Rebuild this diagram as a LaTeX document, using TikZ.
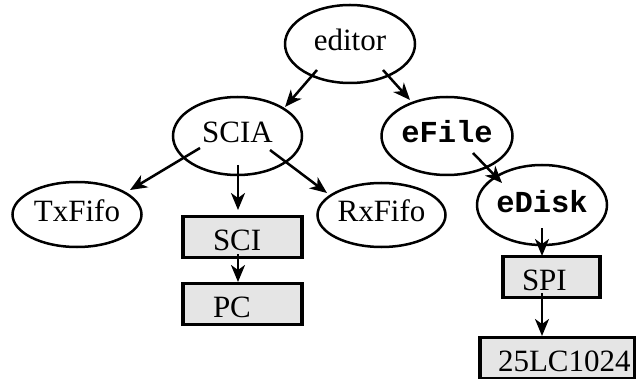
\documentclass[tikz,border=0pt]{standalone}
\usepackage{fontspec}
\setmainfont{Liberation Serif}
\newfontfamily\codefont{Liberation Mono}
\usetikzlibrary{shapes.geometric,arrows.meta,calc}
\tikzset{
  obj/.style={ellipse, draw, line width=2.5pt, inner sep=0pt,
    font=\fontsize{31}{31}\selectfont, text height=17pt, text depth=3pt},
  code/.style={obj, font=\fontsize{30.5}{31}\selectfont\codefont\bfseries},
  hw/.style={rectangle, draw, line width=3.3pt, fill=black!10, inner ysep=0pt,
    minimum height=41pt, align=left, font=\fontsize{31}{31}\selectfont,
    text height=26pt, text depth=0pt},
  link/.style={line width=2.5pt, -{Stealth[length=17pt,width=14pt,inset=5pt]}}
}
\begin{document}
\begin{tikzpicture}[x=1pt,y=-1pt]
\useasboundingbox (0,0) rectangle (636,379);

% software modules
\node[obj, minimum width=130pt, minimum height=78pt] (editor) at (350,44) {editor};
\node[obj, minimum width=129pt, minimum height=78pt] (scia) at (237.5,136) {SCIA};
\node[code, minimum width=131pt, minimum height=78pt] (efile) at (447,136) {eFile};
\node[obj, minimum width=129pt, minimum height=65pt] (txfifo) at (77,214.5) {TxFifo};
\node[obj, minimum width=128pt, minimum height=64pt] (rxfifo) at (381.5,215) {RxFifo};
\node[code, minimum width=130pt, minimum height=80pt] (edisk) at (542,205) {eDisk};

% hardware blocks
\node[hw, inner xsep=30pt, text width=59pt] (sci) at (242.5,237) {SCI};
\node[hw, inner xsep=30pt, text width=59pt] (pc) at (242.5,304) {PC};
\node[hw, inner xsep=19pt, text width=59pt] (spi) at (551.5,277) {SPI};
\node[hw, inner xsep=18pt, text width=119pt] (eeprom) at (557.5,358) {25LC1024};

% uses-relations
\draw[link] ($(editor)+(-33,26)$) -- ($(scia)+(47.5,-29)$);
\draw[link] ($(editor)+(33,26)$) -- ($(efile)+(-37,-36)$);
\draw[link] ($(scia)+(-37.5,12)$) -- ($(txfifo)+(53,-24.5)$);
\draw[link] ($(scia)+(0.5,29)$) -- ($(sci)+(-4.5,-27)$);
\draw[link] ($(scia)+(32.5,14)$) -- ($(rxfifo)+(-54.5,-22)$);
\draw[link] ($(sci)+(-4.5,17)$) -- ($(pc)+(-4.5,-22)$);
\draw[link] ($(efile)+(26,17)$) -- ($(edisk)+(-40,-22)$);
\draw[link] ($(edisk)+(0,23)$) -- ($(spi)+(-9.5,-21)$);
\draw[link] ($(spi)+(-9.5,16)$) -- ($(eeprom)+(-15.5,-22)$);
\end{tikzpicture}
\end{document}
